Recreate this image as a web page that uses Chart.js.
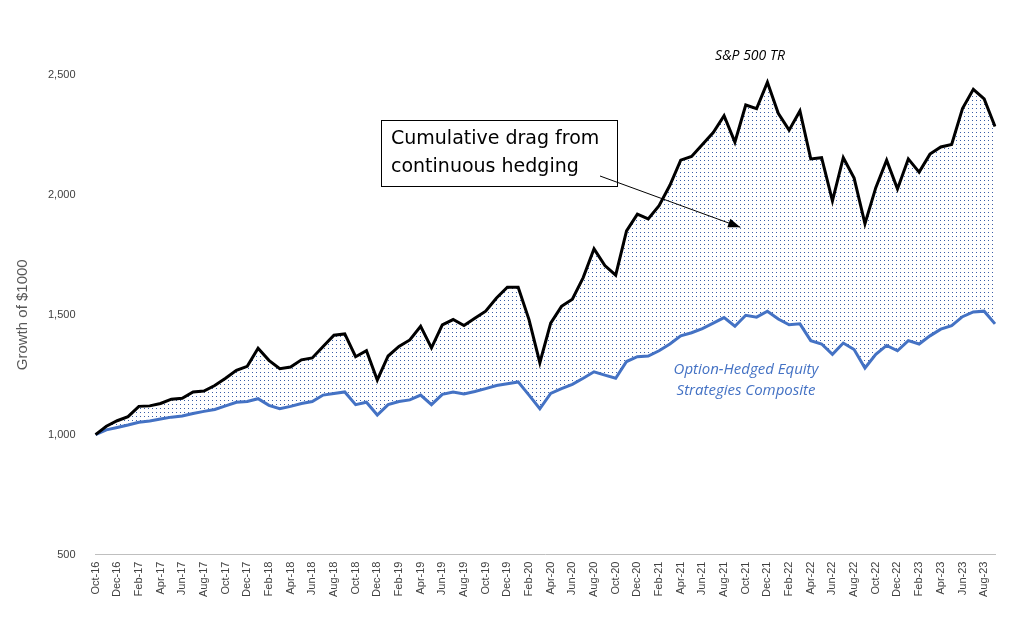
<!DOCTYPE html>
<html>
<head>
<meta charset="utf-8">
<script src="https://cdn.jsdelivr.net/npm/chart.js@4/dist/chart.umd.min.js"></script>
<style>
  html, body { margin: 0; padding: 0; background: #fff; }
  #wrap { width: 1013px; height: 628px; }
</style>
</head>
<body>
<div id="wrap"><canvas id="chart"></canvas></div>
<script>
const MONTHS = ['Jan','Feb','Mar','Apr','May','Jun','Jul','Aug','Sep','Oct','Nov','Dec'];
const labels = [];
for (let y = 2016, m = 9; labels.length < 84; m++) {
  if (m > 11) { m = 0; y++; }
  labels.push(MONTHS[m] + '-' + String(y).slice(2));
}

const spTR = [1000, 1035, 1058,
  1075, 1118, 1120, 1130, 1148, 1152, 1178, 1182, 1205, 1235, 1268, 1285,
  1360, 1310, 1275, 1282, 1312, 1320, 1368, 1415, 1420, 1325, 1350, 1228,
  1328, 1368, 1395, 1452, 1362, 1458, 1480, 1455, 1485, 1515, 1570, 1615,
  1615, 1480, 1300, 1465, 1535, 1565, 1655, 1775, 1705, 1665, 1850, 1920,
  1900, 1955, 2040, 2145, 2160, 2210, 2260, 2330, 2220, 2375, 2360, 2470,
  2340, 2270, 2350, 2150, 2155, 1975, 2155, 2070, 1880, 2030, 2145, 2025,
  2150, 2095, 2170, 2200, 2210, 2360, 2440, 2400, 2285];

const hedged = [1000, 1020, 1030,
  1040, 1052, 1057, 1065, 1073, 1078, 1088, 1097, 1105, 1120, 1135, 1138,
  1150, 1122, 1108, 1118, 1130, 1138, 1165, 1172, 1178, 1125, 1135, 1082,
  1125, 1138, 1145, 1165, 1125, 1168, 1178, 1170, 1180, 1192, 1205, 1212,
  1220, 1165, 1108, 1172, 1192, 1210, 1235, 1262, 1248, 1235, 1305, 1325,
  1328, 1350, 1378, 1412, 1425, 1442, 1465, 1488, 1452, 1498, 1490, 1515,
  1482, 1458, 1462, 1392, 1378, 1335, 1382, 1355, 1278, 1335, 1372, 1350,
  1392, 1378, 1412, 1440, 1455, 1492, 1512, 1515, 1462];

// sparse dotted fill pattern
const pc = document.createElement('canvas');
pc.width = 4; pc.height = 4;
const pctx = pc.getContext('2d');
pctx.fillStyle = '#3B5FA8';
pctx.fillRect(0, 0, 1, 1);
const dots = document.getElementById('chart').getContext('2d').createPattern(pc, 'repeat');

const notes = {
  id: 'notes',
  afterDraw(chart) {
    const { ctx, scales: { x, y } } = chart;
    ctx.save();
    ctx.textAlign = 'center';
    ctx.textBaseline = 'middle';
    ctx.fillStyle = '#000';
    ctx.font = 'italic 14px "Open Sans", sans-serif';
    ctx.fillText('S&P 500 TR', 750, 56);
    ctx.fillStyle = '#4472C4';
    ctx.font = 'italic 15px "Open Sans", sans-serif';
    ctx.fillText('Option-Hedged Equity', 746, 370);
    ctx.fillText('Strategies Composite', 746, 391);

    // callout box
    ctx.fillStyle = '#fff';
    ctx.fillRect(381, 120, 236, 66);
    ctx.strokeStyle = '#000';
    ctx.lineWidth = 1;
    ctx.strokeRect(381.5, 120.5, 236, 66);
    ctx.fillStyle = '#000';
    ctx.textAlign = 'left';
    ctx.font = '19px "Comic Sans MS", "DejaVu Sans", sans-serif';
    ctx.fillText('Cumulative drag from', 391, 139);
    ctx.fillText('continuous hedging', 391, 167);

    // arrow to the gap
    const x1 = 600, y1 = 176;
    const x2 = x.getPixelForValue(59.5), y2 = y.getPixelForValue(1865);
    ctx.beginPath();
    ctx.moveTo(x1, y1);
    ctx.lineTo(x2, y2);
    ctx.stroke();
    const a = Math.atan2(y2 - y1, x2 - x1);
    ctx.beginPath();
    ctx.moveTo(x2, y2);
    ctx.lineTo(x2 - 13 * Math.cos(a - 0.35), y2 - 13 * Math.sin(a - 0.35));
    ctx.lineTo(x2 - 13 * Math.cos(a + 0.35), y2 - 13 * Math.sin(a + 0.35));
    ctx.closePath();
    ctx.fill();
    ctx.restore();
  }
};

new Chart(document.getElementById('chart'), {
  type: 'line',
  data: {
    labels: labels,
    datasets: [{
      label: 'S&P 500 TR',
      data: spTR,
      borderColor: '#000',
      borderWidth: 3,
      pointRadius: 0,
      tension: 0,
      fill: false
    }, {
      label: 'Option-Hedged Equity Strategies Composite',
      data: hedged,
      borderColor: '#4472C4',
      borderWidth: 3,
      pointRadius: 0,
      tension: 0,
      backgroundColor: dots,
      fill: '-1'
    }]
  },
  options: {
    responsive: true,
    maintainAspectRatio: false,
    animation: false,
    layout: { padding: { top: 75, right: 18, left: 10, bottom: 28 } },
    plugins: { legend: { display: false }, tooltip: { enabled: false } },
    scales: {
      x: {
        offset: false,
        grid: { display: false, drawTicks: true, tickLength: 4 },
        border: { color: '#BFBFBF' },
        ticks: {
          autoSkip: false,
          maxRotation: 90,
          minRotation: 90,
          color: '#404040',
          font: { size: 11, family: 'Liberation Sans, Arial, sans-serif' },
          callback: (v, i) => i % 2 === 0 ? labels[i] : ''
        }
      },
      y: {
        min: 500,
        max: 2500,
        grid: { display: false },
        border: { display: false },
        ticks: {
          stepSize: 500,
          color: '#404040',
          padding: 12,
          font: { size: 11, family: 'Liberation Sans, Arial, sans-serif' },
          callback: v => v.toLocaleString('en-US')
        },
        title: {
          display: true,
          text: 'Growth of $1000',
          color: '#595959',
          font: { size: 15, family: 'Liberation Sans, Arial, sans-serif' }
        }
      }
    }
  },
  plugins: [notes]
});
</script>
</body>
</html>
